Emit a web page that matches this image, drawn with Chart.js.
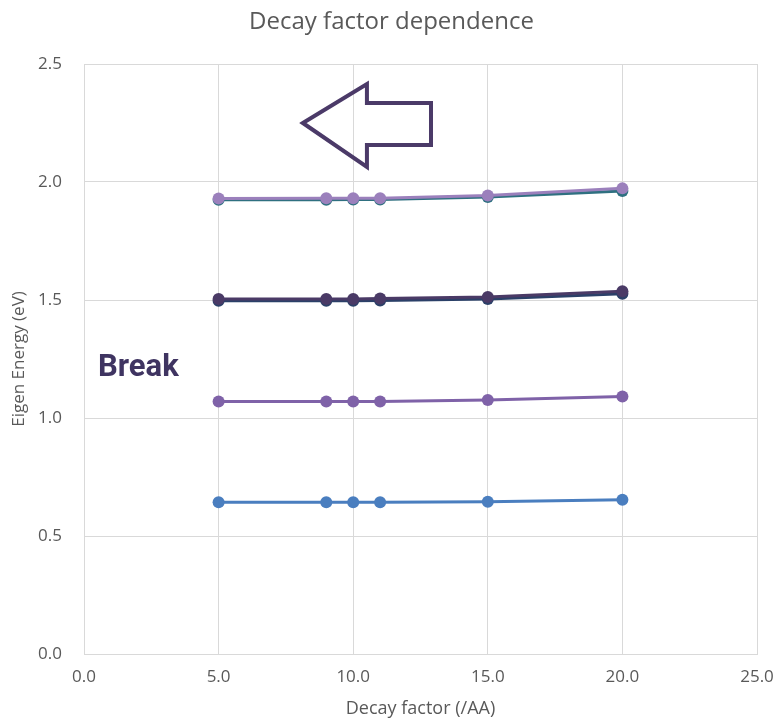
<!DOCTYPE html>
<html>
<head>
<meta charset="utf-8">
<script src="https://cdn.jsdelivr.net/npm/chart.js@4.4.1/dist/chart.umd.min.js"></script>
<style>
  html, body { margin: 0; padding: 0; background: #ffffff; }
  #wrap { width: 777px; height: 720px; }
</style>
</head>
<body>
<div id="wrap"><canvas id="chart" width="777" height="720"></canvas></div>
<script>
// Decay factor values (x, /AA)
const decayFactors = [5, 9, 10, 11, 15, 20];

// Eigen energies (eV) per level
const level1 = [0.643, 0.643, 0.643, 0.643, 0.645, 0.654];
const level2 = [1.070, 1.070, 1.070, 1.070, 1.076, 1.091];
const level3a = [1.497, 1.497, 1.497, 1.498, 1.504, 1.526];
const level3b = [1.504, 1.504, 1.504, 1.506, 1.513, 1.537];
const level4a = [1.925, 1.925, 1.926, 1.926, 1.936, 1.962];
const level4b = [1.930, 1.931, 1.931, 1.931, 1.943, 1.973];

const xTicks = [0, 5, 10, 15, 20, 25];
const yTicks = [0, 0.5, 1.0, 1.5, 2.0, 2.5];

const chartTitle = 'Decay factor dependence';

// Annotation: hollow left arrow (data units) and "Break" label
const arrowPoly = [
  [8.13, 2.250], [10.51, 2.415], [10.51, 2.335], [12.89, 2.335],
  [12.89, 2.157], [10.51, 2.157], [10.51, 2.064]
];
const breakLabel = { text: 'Break', x: 0.52, y: 1.212 };

const INK = '#595959';
const GRID = '#d9d9d9';
const FONT = '"Open Sans", "Liberation Sans", sans-serif';

function series(values, color, order) {
  return {
    data: decayFactors.map((x, i) => ({ x, y: values[i] })),
    showLine: true,
    borderColor: color,
    backgroundColor: color,
    borderWidth: 3,
    pointRadius: 6,
    pointHoverRadius: 6,
    pointBorderWidth: 0,
    order,
  };
}

// Title is centred over the plot area (Excel style), plus the arrow and label
const annotations = {
  id: 'annotations',
  afterDraw(chart) {
    const { ctx, chartArea, scales: { x, y } } = chart;
    ctx.save();
    ctx.font = `24px ${FONT}`;
    ctx.fillStyle = INK;
    ctx.textAlign = 'center';
    ctx.textBaseline = 'middle';
    ctx.fillText(chartTitle, (chartArea.left + chartArea.right) / 2 - 29, 22);

    ctx.beginPath();
    arrowPoly.forEach(([px, py], i) => {
      const cx = x.getPixelForValue(px);
      const cy = y.getPixelForValue(py);
      if (i === 0) ctx.moveTo(cx, cy); else ctx.lineTo(cx, cy);
    });
    ctx.closePath();
    ctx.lineWidth = 4;
    ctx.lineJoin = 'miter';
    ctx.strokeStyle = '#4b3a68';
    ctx.stroke();

    ctx.font = 'bold 31px Roboto, "Liberation Sans", sans-serif';
    ctx.fillStyle = '#3f3461';
    ctx.textAlign = 'left';
    ctx.fillText(breakLabel.text, x.getPixelForValue(breakLabel.x), y.getPixelForValue(breakLabel.y));
    ctx.restore();
  },
};

new Chart(document.getElementById('chart'), {
  type: 'scatter',
  data: {
    datasets: [
      series(level1, '#4a7ebf', 6),
      series(level2, '#7f62a8', 5),
      series(level3a, '#2b4068', 4),
      series(level3b, '#4a3a66', 3),
      series(level4a, '#2f7080', 2),
      series(level4b, '#9b80bc', 1),
    ],
  },
  options: {
    responsive: false,
    animation: false,
    layout: { padding: { left: 0, right: 20, top: 64, bottom: 0 } },
    plugins: {
      legend: { display: false },
      tooltip: { enabled: false },
      title: { display: false },
    },
    scales: {
      x: {
        type: 'linear',
        min: 0,
        max: 25,
        afterBuildTicks: (s) => { s.ticks = xTicks.map((v) => ({ value: v })); },
        afterFit: (s) => { s.height = 66; s.paddingLeft = 0; s.paddingRight = 0; },
        grid: { color: GRID, lineWidth: 1, drawTicks: false },
        border: { color: GRID },
        ticks: {
          color: INK,
          padding: 13,
          font: { family: FONT, size: 17 },
          callback: (v) => v.toFixed(1),
        },
        title: {
          display: true,
          text: 'Decay factor (/AA)',
          color: INK,
          font: { family: FONT, size: 18 },
          padding: { top: 0, bottom: 0 },
        },
      },
      y: {
        type: 'linear',
        min: 0,
        max: 2.5,
        afterBuildTicks: (s) => { s.ticks = yTicks.map((v) => ({ value: v })); },
        afterFit: (s) => { s.width = 84; s.paddingTop = 0; s.paddingBottom = 0; },
        grid: { color: GRID, lineWidth: 1, drawTicks: false },
        border: { color: GRID },
        ticks: {
          color: INK,
          padding: 22,
          font: { family: FONT, size: 17 },
          callback: (v) => v.toFixed(1),
        },
        title: {
          display: true,
          text: 'Eigen Energy (eV)',
          color: INK,
          font: { family: FONT, size: 17 },
          padding: { top: 9, bottom: 0 },
        },
      },
    },
  },
  plugins: [annotations],
});
</script>
</body>
</html>
